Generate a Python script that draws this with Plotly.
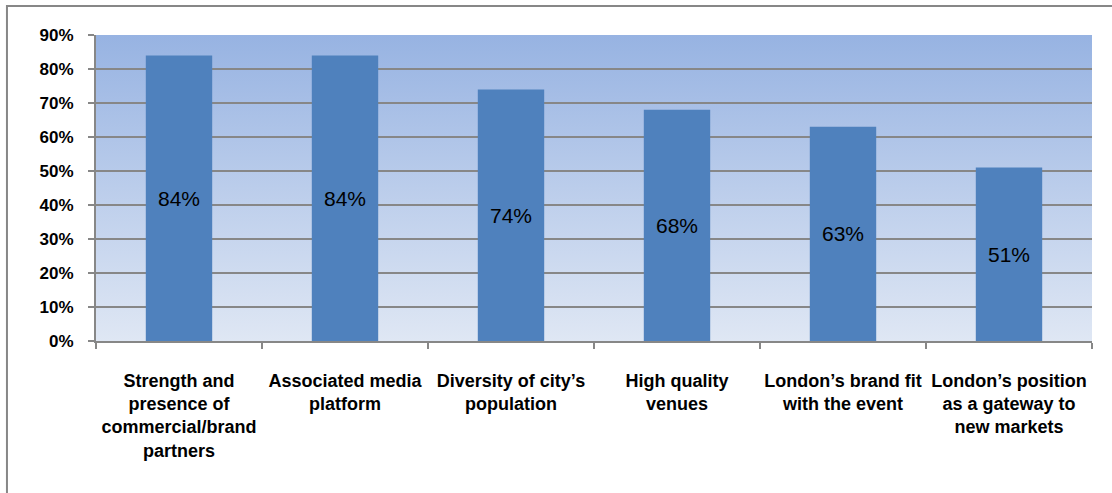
import base64
import plotly.graph_objects as go

# --- DATA ---
CATEGORIES = [
    "Strength and<br>presence of<br>commercial/brand<br>partners",
    "Associated media<br>platform",
    "Diversity of city’s<br>population",
    "High quality<br>venues",
    "London’s brand fit<br>with the event",
    "London’s position<br>as a gateway to<br>new markets",
]
VALUES = [84, 84, 74, 68, 63, 51]
Y_TICKS = [0, 10, 20, 30, 40, 50, 60, 70, 80, 90]

GRID = "#878787"
BAR = "#4F81BD"
FONT = "Liberation Sans"

# gradient plot background (Excel style), as an inline svg image
svg = (
    '<svg xmlns="http://www.w3.org/2000/svg" width="10" height="100" preserveAspectRatio="none">'
    '<defs><linearGradient id="g" x1="0" y1="0" x2="0" y2="1">'
    '<stop offset="0" stop-color="#97B3E2"/><stop offset="1" stop-color="#DFE7F4"/>'
    '</linearGradient></defs><rect width="10" height="100" fill="url(#g)"/></svg>'
)
bg_src = "data:image/svg+xml;base64," + base64.b64encode(svg.encode()).decode()

fig = go.Figure(
    go.Bar(
        x=CATEGORIES, y=VALUES,
        marker=dict(color=BAR, line=dict(width=0)),
        text=[f"{v}%" for v in VALUES],
        textposition="inside", insidetextanchor="middle",
        textfont=dict(family=FONT, size=21, color="black"),
        hoverinfo="skip",
    )
)

fig.update_layout(
    width=1112, height=493,
    paper_bgcolor="white", plot_bgcolor="rgba(0,0,0,0)",
    margin=dict(l=96, r=20, t=35, b=152),
    bargap=0.6,
    showlegend=False,
    images=[dict(source=bg_src, xref="paper", yref="paper", x=0, y=1,
                 sizex=1, sizey=1, sizing="stretch", layer="below")],
    shapes=[dict(type="rect", xref="paper", yref="paper",
                 x0=-0.0894, x1=1.1, y0=-0.7, y1=1.095,
                 line=dict(color=GRID, width=2), layer="below")],
    xaxis=dict(
        showgrid=False, showline=True, linecolor=GRID, linewidth=2,
        ticks="outside", tickson="boundaries", ticklen=6, tickcolor=GRID, tickwidth=2,
        tickfont=dict(family=FONT, size=18, color="black", weight="bold"),
        ticklabelstandoff=22, tickangle=0,
    ),
    yaxis=dict(
        range=[0, 90], tickmode="array", tickvals=Y_TICKS,
        ticktext=[f"{v}%" for v in Y_TICKS],
        showgrid=True, gridcolor=GRID, gridwidth=2,
        showline=True, linecolor=GRID, linewidth=2, zeroline=False,
        ticks="outside", ticklen=6, tickcolor=GRID, tickwidth=2,
        tickfont=dict(family=FONT, size=17, color="black", weight="bold"),
        ticklabelstandoff=11,
    ),
)

fig.write_html("out.html", config={"displayModeBar": False},
               post_script="document.body.style.margin='0';")
